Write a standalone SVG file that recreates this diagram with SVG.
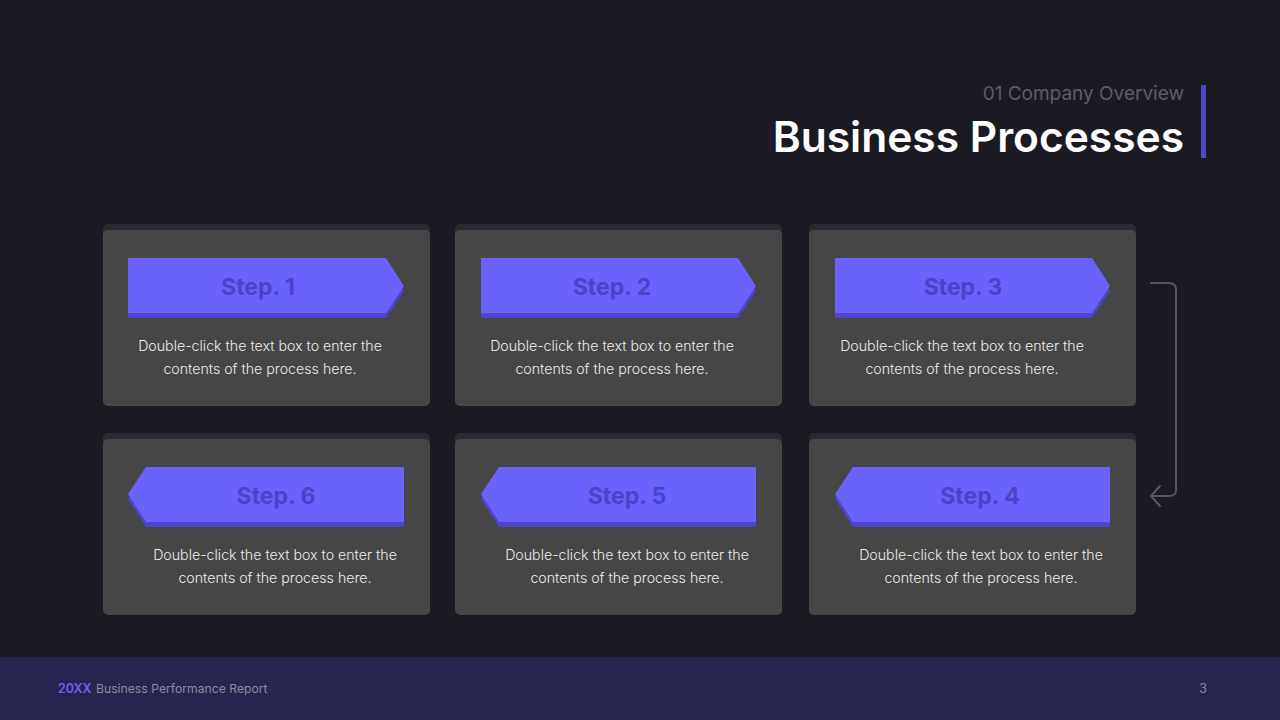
<svg xmlns="http://www.w3.org/2000/svg" width="1280" height="720" viewBox="0 0 1280 720">
<defs>
<style>
.card{fill:#464646}
.cardtop{fill:#2b2a30}
.tag{fill:#6b62fb}
.tagsh{fill:#4d44cf}
.step{font-family:Inter,"Liberation Sans",sans-serif;font-weight:700;font-size:23px;fill:#4c43c9;text-anchor:middle}
.desc{font-family:Inter,"Liberation Sans",sans-serif;font-weight:300;font-size:14.2px;fill:#ececec;text-anchor:middle}
.conn{fill:none;stroke:#56555c;stroke-width:2;stroke-linecap:round;stroke-linejoin:round}
</style>
</defs>
<rect width="1280" height="720" fill="#1b1a22"/>
<rect x="0" y="657" width="1280" height="63" fill="#27254f"/>
<g id="title">
<text x="1184" y="100" text-anchor="end" font-family="Inter,'DejaVu Sans',sans-serif" font-size="19" fill="#5e5d66">01 Company Overview</text>
<text x="1184" y="152" text-anchor="end" font-family="Inter,'Liberation Sans',sans-serif" font-weight="600" font-size="42.5" fill="#ffffff">Business Processes</text>
<rect x="1201" y="85" width="5" height="73" fill="#4f46c8"/>
</g>
<g id="connectors">
<path class="conn" d="M1151,283 H1169 Q1176,283 1176,290 V490 Q1176,496 1169,496 H1152"/>
<path class="conn" d="M1160,486 L1151,496 L1160,506"/>
</g>
<g id="step1">
<rect class="cardtop" x="103" y="224" width="327" height="20" rx="5"/>
<rect class="card" x="103" y="230" width="327" height="176" rx="5"/>
<polygon class="tagsh" points="128,263 386,263 404,291 386,318 128,318"/>
<polygon class="tag" points="128,258 386,258 404,286 386,313 128,313"/>
<text class="step" x="258" y="295">Step. 1</text>
<text class="desc" x="260" y="351">Double-click the text box to enter the</text>
<text class="desc" x="260" y="374">contents of the process here.</text>
</g>
<g id="step2">
<rect class="cardtop" x="455" y="224" width="327" height="20" rx="5"/>
<rect class="card" x="455" y="230" width="327" height="176" rx="5"/>
<polygon class="tagsh" points="481,263 738,263 756,291 738,318 481,318"/>
<polygon class="tag" points="481,258 738,258 756,286 738,313 481,313"/>
<text class="step" x="612" y="295">Step. 2</text>
<text class="desc" x="612" y="351">Double-click the text box to enter the</text>
<text class="desc" x="612" y="374">contents of the process here.</text>
</g>
<g id="step3">
<rect class="cardtop" x="809" y="224" width="327" height="20" rx="5"/>
<rect class="card" x="809" y="230" width="327" height="176" rx="5"/>
<polygon class="tagsh" points="835,263 1092,263 1110,291 1092,318 835,318"/>
<polygon class="tag" points="835,258 1092,258 1110,286 1092,313 835,313"/>
<text class="step" x="963" y="295">Step. 3</text>
<text class="desc" x="962" y="351">Double-click the text box to enter the</text>
<text class="desc" x="962" y="374">contents of the process here.</text>
</g>
<g id="step6">
<rect class="cardtop" x="103" y="433" width="327" height="20" rx="5"/>
<rect class="card" x="103" y="439" width="327" height="176" rx="5"/>
<polygon class="tagsh" points="146,472 404,472 404,527 146,527 128,499"/>
<polygon class="tag" points="146,467 404,467 404,522 146,522 128,494"/>
<text class="step" x="276" y="504">Step. 6</text>
<text class="desc" x="275" y="560">Double-click the text box to enter the</text>
<text class="desc" x="275" y="583">contents of the process here.</text>
</g>
<g id="step5">
<rect class="cardtop" x="455" y="433" width="327" height="20" rx="5"/>
<rect class="card" x="455" y="439" width="327" height="176" rx="5"/>
<polygon class="tagsh" points="499,472 756,472 756,527 499,527 481,499"/>
<polygon class="tag" points="499,467 756,467 756,522 499,522 481,494"/>
<text class="step" x="627" y="504">Step. 5</text>
<text class="desc" x="627" y="560">Double-click the text box to enter the</text>
<text class="desc" x="627" y="583">contents of the process here.</text>
</g>
<g id="step4">
<rect class="cardtop" x="809" y="433" width="327" height="20" rx="5"/>
<rect class="card" x="809" y="439" width="327" height="176" rx="5"/>
<polygon class="tagsh" points="853,472 1110,472 1110,527 853,527 835,499"/>
<polygon class="tag" points="853,467 1110,467 1110,522 853,522 835,494"/>
<text class="step" x="980" y="504">Step. 4</text>
<text class="desc" x="981" y="560">Double-click the text box to enter the</text>
<text class="desc" x="981" y="583">contents of the process here.</text>
</g>
<g id="footer">
<text x="58" y="693" font-family="Inter,'Liberation Sans',sans-serif" font-size="12.5" font-weight="600" fill="#6b62f0">20XX</text>
<text x="96" y="693" font-family="Inter,'Liberation Sans',sans-serif" font-size="12.2" fill="#8b8aa3">Business Performance Report</text>
<text x="1203" y="693" text-anchor="middle" font-family="Inter,'Liberation Sans',sans-serif" font-size="12.5" fill="#8b8aa3">3</text>
</g>
</svg>
